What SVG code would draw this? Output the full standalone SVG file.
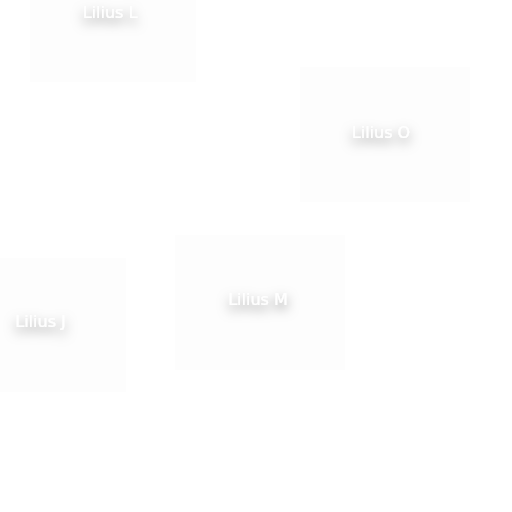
<svg xmlns="http://www.w3.org/2000/svg" width="512" height="512" viewBox="0 0 512 512">
<defs>
<filter id="ts" x="-60%" y="-150%" width="220%" height="400%">
<feDropShadow dx="0" dy="5" stdDeviation="6" flood-color="#000" flood-opacity="0.5"/>
</filter>
<style>
.box{fill:#fdfdfd;stroke:none}
.lbl{font-family:"DejaVu Sans",sans-serif;font-size:16px;fill:#ffffff;text-anchor:middle;filter:url(#ts)}
</style>
</defs>
<rect width="512" height="512" fill="#ffffff"/>
<g id="connectors"></g>
<g id="node-L">
<rect class="box" x="30" y="-53" width="166" height="135"/>
<text class="lbl" x="110" y="18">Lilius L</text>
</g>
<g id="node-O">
<rect class="box" x="300" y="67" width="170" height="135"/>
<text class="lbl" x="381" y="138">Lilius O</text>
</g>
<g id="node-M">
<rect class="box" x="175" y="235" width="170" height="135"/>
<text class="lbl" x="258" y="305">Lilius M</text>
</g>
<g id="node-J">
<rect class="box" x="-44" y="258" width="170" height="134"/>
<text class="lbl" x="40.5" y="327">Lilius J</text>
</g>
</svg>
